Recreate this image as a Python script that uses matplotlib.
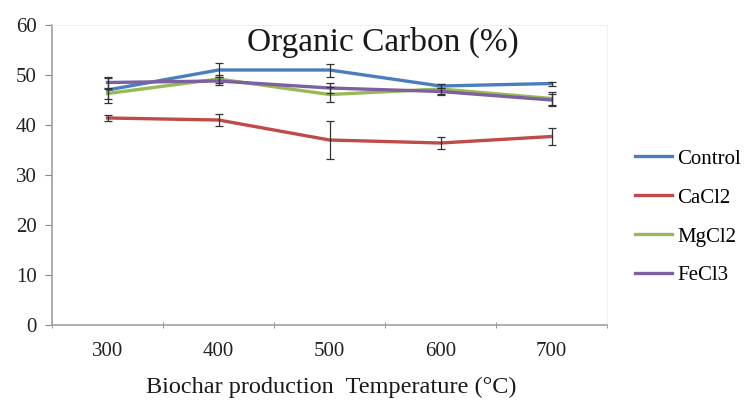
import matplotlib
matplotlib.use("Agg")
import matplotlib.pyplot as plt
import numpy as np

temps = ["300", "400", "500", "600", "700"]
series = ["Control", "CaCl2", "MgCl2", "FeCl3"]
control = [47.0, 51.0, 51.0, 47.8, 48.3]
cacl2 = [41.4, 41.0, 37.0, 36.4, 37.7]
mgcl2 = [46.3, 49.2, 46.1, 47.2, 45.3]
fecl3 = [48.5, 48.8, 47.4, 46.7, 45.0]
err_control = [2.6, 1.4, 1.3, 0.4, 0.4]
err_cacl2 = [0.6, 1.2, 3.8, 1.2, 1.8]
err_mgcl2 = [1.0, 0.9, 1.5, 1.0, 1.3]
err_fecl3 = [1.0, 0.8, 1.0, 0.6, 1.2]
colors = ["#4A7EBB", "#BE4B48", "#98B954", "#7D60A0"]

plt.rcParams['font.family'] = ['Liberation Serif', 'DejaVu Serif']

fig = plt.figure(figsize=(7.45, 4.01), dpi=100)
ax = fig.add_axes([52/745, 76/401, 555/745, 300/401])

x = np.arange(len(temps))
values = [control, cacl2, mgcl2, fecl3]
errs = [err_control, err_cacl2, err_mgcl2, err_fecl3]
for name, v, e, c in zip(series, values, errs, colors):
    ax.plot(x, v, color=c, lw=2.4, label=name, zorder=3)
    ax.errorbar(x, v, yerr=e, fmt='none', ecolor='#333333', elinewidth=0.9,
                capsize=3, capthick=0.9, zorder=4)

ax.set_xlim(-0.5, 4.5)
ax.set_ylim(0, 60)
ax.set_yticks(range(0, 61, 10))
ax.set_xticks(x)
ax.set_xticklabels(temps)
ax.set_xticks(np.arange(-0.5, 4.6, 1), minor=True)
ax.tick_params(axis='x', which='major', length=0, pad=12, labelsize=15, colors='#222222')
ax.tick_params(axis='x', which='minor', length=4, color='#868686', direction='inout')
ax.tick_params(axis='y', length=5, color='#868686', labelsize=15, colors='#222222', pad=6)
for s in ['top', 'right']:
    ax.spines[s].set_color('#f0f0f0')
    ax.spines[s].set_linewidth(0.8)
for s in ['left', 'bottom']:
    ax.spines[s].set_color('#a0a0a0')
    ax.spines[s].set_linewidth(1.2)

ax.text(0.596, 0.943, "Organic Carbon (%)", transform=ax.transAxes, ha='center',
        va='center', fontsize=24, color='#1a1a1a')
fig.text(331/745, 1 - 387/401, "Biochar production  Temperature (°C)", fontsize=17.5,
         ha='center', va='center', color='#1a1a1a')

fig.legend(loc='upper left', bbox_to_anchor=(635/745, 1 - 149/401), frameon=False,
           fontsize=15, handlelength=1.78, handletextpad=0.24, labelspacing=0.93,
           borderaxespad=0, borderpad=0)

fig.savefig("out.png", dpi=100)
